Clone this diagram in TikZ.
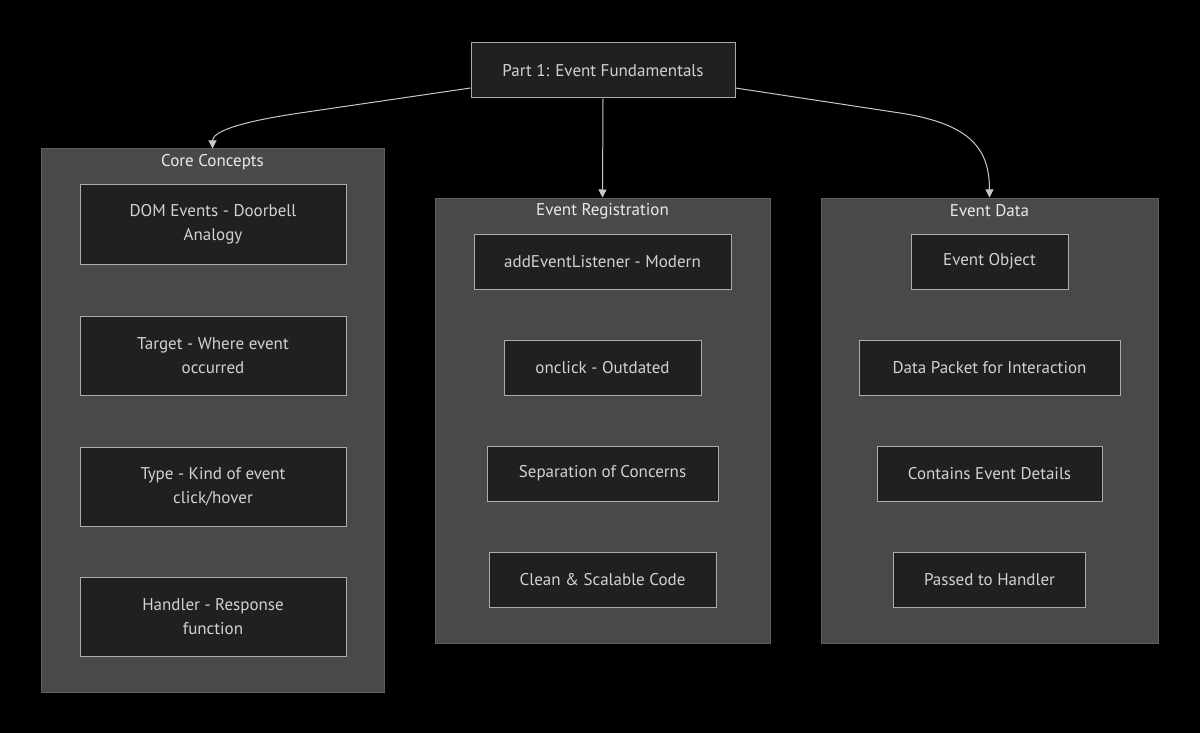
\documentclass[tikz,border=0pt]{standalone}
\usepackage{fontspec}
\setmainfont{PT Sans}
\usetikzlibrary{arrows.meta}
\definecolor{bg}{HTML}{000000}
\definecolor{clfill}{HTML}{484948}
\definecolor{clline}{HTML}{5E5F5E}
\definecolor{ndfill}{HTML}{1F2020}
\definecolor{ndline}{HTML}{ACACAC}
\definecolor{ndtext}{HTML}{D2D2D2}
\definecolor{tltext}{HTML}{EAEAEA}
\definecolor{edge}{HTML}{C8C8C8}
\tikzset{
  box/.style={draw=ndline, line width=1pt, fill=ndfill, text=ndtext, align=center,
    inner sep=0pt, font=\fontsize{17}{24}\selectfont},
  cluster/.style={draw=clline, line width=1pt, fill=clfill, inner sep=0pt},
  ctitle/.style={text=tltext, inner sep=0pt, font=\fontsize{17}{20}\selectfont},
  arr/.style={draw=edge, line width=1pt, -{Triangle[length=8pt,width=8pt]}},
}
\begin{document}
\begin{tikzpicture}[x=1pt,y=-1pt]
\fill[bg] (0,0) rectangle (1200,733);
\useasboundingbox (0,0) rectangle (1200,733);

% clusters
\node[cluster, minimum width=343pt, minimum height=543pt] (c1) at (212.5,420.5) {};
\node[cluster, minimum width=335pt, minimum height=445pt] (c2) at (602.5,420.5) {};
\node[cluster, minimum width=337pt, minimum height=445pt] (c3) at (989.5,420.5) {};
\node[ctitle] (t1) at (212.5,162) {Core Concepts};
\node[ctitle] (t2) at (602.5,211) {Event Registration};
\node[ctitle] (t3) at (989.5,211) {Event Data};

% top node
\node[box, minimum width=264pt, minimum height=55pt] (top) at (603,70.5) {Part 1: Event Fundamentals};

% cluster 1 nodes
\node[box, minimum width=266pt, minimum height=79pt] (a1) at (213,224.5) {DOM Events - Doorbell\\Analogy};
\node[box, minimum width=266pt, minimum height=79pt] (a2) at (213,355.5) {Target - Where event\\occurred};
\node[box, minimum width=266pt, minimum height=79pt] (a3) at (213,486.5) {Type - Kind of event\\click/hover};
\node[box, minimum width=266pt, minimum height=79pt] (a4) at (213,617) {Handler - Response\\function};

% cluster 2 nodes
\node[box, minimum width=257pt, minimum height=55pt] (b1) at (602.5,261.5) {addEventListener - Modern};
\node[box, minimum width=197pt, minimum height=55pt] (b2) at (602.5,367.5) {onclick - Outdated};
\node[box, minimum width=231pt, minimum height=55pt] (b3) at (602.5,473.5) {Separation of Concerns};
\node[box, minimum width=227pt, minimum height=55pt] (b4) at (602.5,579.5) {Clean \& Scalable Code};

% cluster 3 nodes
\node[box, minimum width=157pt, minimum height=55pt] (d1) at (989.5,261.5) {Event Object};
\node[box, minimum width=261pt, minimum height=55pt] (d2) at (989.5,367.5) {Data Packet for Interaction};
\node[box, minimum width=225pt, minimum height=55pt] (d3) at (989.5,473.5) {Contains Event Details};
\node[box, minimum width=192pt, minimum height=55pt] (d4) at (989.5,579.5) {Passed to Handler};

% edges
\draw[arr] ([yshift=-17.5pt]top.west) -- (300,113) .. controls (232,123) and (212.5,133) .. (c1.north);
\draw[arr] (top.south) -- (c2.north);
\draw[arr] ([yshift=-17.5pt]top.east) -- (900,113) .. controls (972,124) and (989.5,150) .. (c3.north);
\end{tikzpicture}
\end{document}
